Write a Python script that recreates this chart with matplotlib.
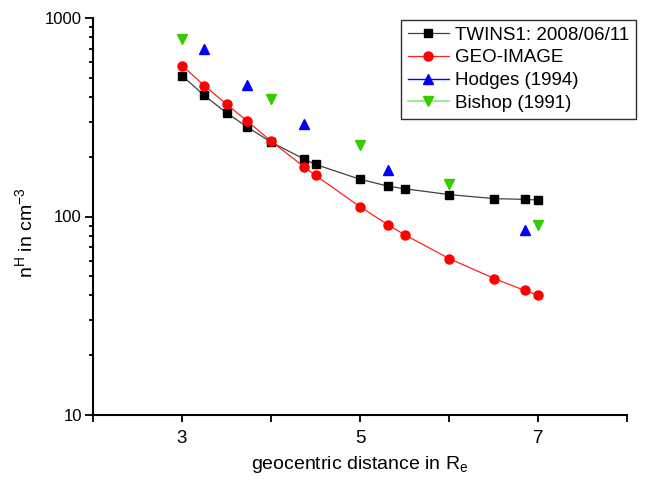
import matplotlib
matplotlib.use("Agg")
import matplotlib.pyplot as plt
from matplotlib.ticker import FixedLocator, LogLocator, NullFormatter, FixedFormatter
from matplotlib.lines import Line2D

plt.rcParams['font.family'] = ['Liberation Sans', 'DejaVu Sans']

twins_x = [3.0, 3.25, 3.5, 3.73, 4.0, 4.37, 4.5, 5.0, 5.32, 5.5, 6.0, 6.51, 6.85, 7.0]
twins_y = [513, 407, 333, 283, 237, 195, 183, 154, 142, 138, 129, 123, 122, 121]

geo_x = [3.0, 3.25, 3.5, 3.73, 4.0, 4.37, 4.5, 5.0, 5.32, 5.5, 6.0, 6.51, 6.85, 7.0]
geo_y = [576, 457, 368, 303, 240, 178, 161, 112, 90.5, 81, 61.4, 48.7, 42.4, 40.2]

hodges_x = [3.25, 3.73, 4.37, 5.32, 6.85]
hodges_y = [694, 462, 293, 172, 85.3]

bishop_x = [3.0, 4.0, 5.0, 6.0, 7.0]
bishop_y = [786, 393, 228, 146, 90.4]

labels = ["TWINS1: 2008/06/11", "GEO-IMAGE", "Hodges (1994)", "Bishop (1991)"]
xtick_vals = [3, 5, 7]
xtick_labels = ["3", "5", "7"]
ytick_vals = [10, 100, 1000]
ytick_labels = ["10", "100", "1000"]

fig = plt.figure(figsize=(6.46, 4.83), dpi=100)
ax = fig.add_axes([93/646, 1 - 415/483, (627-93)/646, (415-18)/483])

ax.plot(twins_x, twins_y, color='#404040', lw=0.9, marker='s', ms=6,
        mfc='black', mec='black', label=labels[0])
ax.plot(geo_x, geo_y, color='#ff2020', lw=0.9, marker='o', ms=6.5,
        mfc='#ff0000', mec='#ff0000', label=labels[1])
ax.plot(hodges_x, hodges_y, color='#0000ff', lw=0, marker='^', ms=7.5,
        mfc='#0000ff', mec='#0000ff', label=labels[2])
ax.plot(bishop_x, bishop_y, color='#33cc00', lw=0, marker='v', ms=7.5,
        mfc='#33cc00', mec='#33cc00', label=labels[3])

ax.set_yscale('log')
ax.set_xlim(2, 8)
ax.set_ylim(10, 1000)

for s in ['top', 'right']:
    ax.spines[s].set_visible(False)
for s in ['left', 'bottom']:
    ax.spines[s].set_linewidth(1.5)

ax.xaxis.set_major_locator(FixedLocator(xtick_vals))
ax.xaxis.set_major_formatter(FixedFormatter(xtick_labels))
ax.xaxis.set_minor_locator(FixedLocator([2, 4, 6, 8]))
ax.yaxis.set_major_locator(FixedLocator(ytick_vals))
ax.yaxis.set_major_formatter(FixedFormatter(ytick_labels))
ax.yaxis.set_minor_locator(LogLocator(base=10, subs=range(2, 10)))
ax.yaxis.set_minor_formatter(NullFormatter())

ax.tick_params(axis='x', which='both', direction='out', length=5, width=1.3,
               labelsize=13.5, pad=6)
ax.tick_params(axis='y', which='major', direction='out', length=6, width=1.3,
               labelsize=12, pad=2)
ax.tick_params(axis='y', which='minor', direction='out', length=3, width=1.3)

ax.set_xlabel(r"geocentric distance in R$_\mathregular{e}$", fontsize=14, labelpad=5)
ax.set_ylabel(r"n$^\mathregular{H}$ in cm$^\mathregular{-3}$", fontsize=14)
ax.yaxis.set_label_coords(-0.105, 0.46)

handles, lbls = ax.get_legend_handles_labels()
h3 = Line2D([], [], color='#0000ff', lw=1, marker='^', ms=7.5, mfc='#0000ff', mec='#0000ff')
h4 = Line2D([], [], color='#80ee70', lw=1.2, marker='v', ms=7.5, mfc='#33cc00', mec='#33cc00')
leg = fig.legend([handles[0], handles[1], h3, h4], lbls,
                 loc='upper left', bbox_to_anchor=(401/646, 1 - 20/483),
                 fontsize=13.5, frameon=True, fancybox=False, framealpha=1,
                 edgecolor='#303030', borderpad=0.35, labelspacing=0.3,
                 handlelength=2.2, handletextpad=0.35, borderaxespad=0)
leg.get_frame().set_linewidth(1.0)

fig.savefig('out.png', dpi=100)
